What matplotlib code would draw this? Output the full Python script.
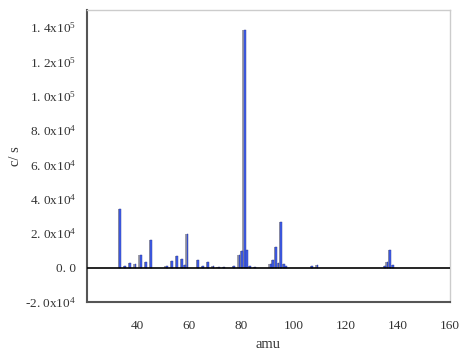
import matplotlib
matplotlib.use("Agg")
import matplotlib.pyplot as plt

plt.rcParams['font.family'] = ['Liberation Serif', 'DejaVu Serif']
plt.rcParams['mathtext.fontset'] = 'custom'
plt.rcParams['mathtext.rm'] = 'Liberation Serif'
plt.rcParams['mathtext.it'] = 'Liberation Serif'

# mass positions (amu) and intensities (c/s)
masses = [33, 35, 37, 39, 41, 43, 45, 51, 53, 55, 57, 58, 59, 63, 65, 67, 69, 71, 73,
          77, 79, 80, 81, 82, 83, 85, 91, 92, 93, 94, 95, 96, 97, 107, 109,
          135, 136, 137, 138]
counts = [34000, 900, 2700, 2400, 7600, 3000, 15800, 700, 3800, 6800, 5300, 1300, 19500,
          4600, 700, 3300, 1200, 600, 600,
          1000, 7600, 9400, 138000, 10000, 1200, 500, 2300, 4200, 12000, 2900, 26400, 2300, 700,
          700, 1300, 700, 3100, 10000, 1300]

xticks = [40, 60, 80, 100, 120, 140, 160]
yticks = [-20000, 0, 20000, 40000, 60000, 80000, 100000, 120000, 140000]
ytick_labels = ["-2. 0x10$^4$", "0. 0", "2. 0x10$^4$", "4. 0x10$^4$", "6. 0x10$^4$",
                "8. 0x10$^4$", "1. 0x10$^5$", "1. 2x10$^5$", "1. 4x10$^5$"]

fig = plt.figure(figsize=(4.73, 3.52), dpi=100)
ax = fig.add_axes([0.184, 0.142, 0.767, 0.830])

gray_x = [m - 0.3 for m in masses]
blue_x = [m + 0.25 for m in masses]
ax.bar(gray_x, counts, width=0.6, color='#a0a0aa', edgecolor='none', zorder=2)
ax.bar(blue_x, counts, width=0.7, color='#4060f0', edgecolor='#2a338a', linewidth=0.3, zorder=3)

ax.axhline(0, color='black', linewidth=1.2, zorder=4)

ax.set_xlim(20.6, 160.2)
ax.set_ylim(-20000, 150000)
ax.set_xticks(xticks)
ax.set_xticklabels([str(t) for t in xticks], fontsize=9.5, color='#333333')
ax.set_yticks(yticks)
ax.set_yticklabels(ytick_labels, fontsize=9.5, color='#333333')
ax.tick_params(axis='both', length=0)
ax.tick_params(axis='x', pad=13)
ax.tick_params(axis='y', pad=8)

for s in ['left', 'bottom']:
    ax.spines[s].set_color('#555555')
    ax.spines[s].set_linewidth(1.5)
for s in ['top', 'right']:
    ax.spines[s].set_color('#cccccc')
    ax.spines[s].set_linewidth(1.0)

ax.set_xlabel('amu', fontsize=10.5, color='#333333', labelpad=4)
ax.set_ylabel('c/ s', fontsize=10.5, color='#333333')
ax.yaxis.set_label_coords(-0.178, 0.5)

fig.savefig('out.png', dpi=100)
